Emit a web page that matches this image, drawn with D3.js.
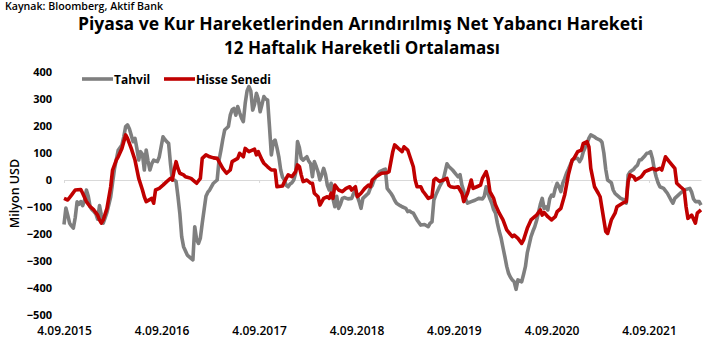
<!DOCTYPE html>
<html>
<head>
<meta charset="utf-8">
<script src="https://cdn.jsdelivr.net/npm/d3@7"></script>
<style>
  html, body { margin: 0; padding: 0; background: #fff; }
  svg { display: block; font-family: 'Open Sans', sans-serif; }
</style>
</head>
<body>
<div id="chart"></div>
<script>
// Veri — haftalık indeks (4.09.2015'ten itibaren hafta sayısı) ve değerler (milyon USD)
const seriesNames = ['Tahvil', 'Hisse Senedi']

const tahvilWeeks = [0,1,2,3,4,5,6,7,8,9,10,11,12,13,14,15,16,17,18,19,20,21,22,23,25,26,27,29,31,32,33,34,35,37,38,39,40,41,42,43,44,45,46,47,48,49,50,51,52,53,54,55,56,57,58,59,60,61,62,63,64,66,68,69,70,71,72,73,74,75,76,77,78,80,82,83,84,85,86,88,89,90,91,92,93,94,95,96,97,98,99,100,101,102,103,104,105,106,107,108,109,110,111,112,113,114,115,116,117,118,119,120,121,122,123,124,125,126,127,128,129,130,131,132,133,134,135,136,137,138,139,140,141,142,143,144,145,146,147,148,149,150,152,154,155,156,157,158,159,160,162,163,164,165,166,167,169,171,172,173,174,175,176,177,178,180,181,183,184,185,186,187,189,191,193,195,196,197,198,199,201,203,205,206,208,210,211,212,213,214,215,216,218,220,222,224,225,226,227,228,229,230,231,232,233,234,235,236,237,238,239,240,241,242,243,245,246,247,248,249,250,251,252,253,254,255,256,257,258,259,260,261,262,263,264,265,266,267,268,269,270,271,272,273,275,276,277,278,279,280,281,282,284,285,287,288,289,290,291,293,294,295,296,298,300,301,302,303,305,306,307,308,309,311,312,313,314,315,316,317,318,319,321,322,323,325,326,327,329,330,332,335,336,337,338,340,341]
const tahvilValues = [-165,-104,-130,-160,-170,-178,-140,-81,-90,-80,-95,-75,-37,-60,-99,-110,-117,-125,-145,-95,-130,-160,-140,-120,-62,-10,40,110,130,160,198,204,190,142,154,117,74,105,95,37,111,70,37,60,74,70,68,86,123,160,150,142,136,60,0,0,-5,-60,-123,-210,-247,-278,-290,-296,-173,-220,-235,-215,-160,-110,-60,-45,-37,-12,0,74,110,150,185,198,240,260,265,240,272,250,230,216,284,330,346,330,259,280,321,300,253,280,309,300,296,198,93,140,148,120,86,37,10,0,-20,-25,-15,-10,0,25,142,120,80,74,80,86,70,60,12,68,50,30,0,20,43,20,-20,-37,-12,-70,-99,-60,-105,-90,-68,-65,-70,-68,-50,-37,-60,-80,-105,-68,-55,-49,-30,-20,0,12,31,38,40,-31,-40,-49,-60,-75,-86,-95,-99,-105,-117,-115,-120,-123,-148,-167,-165,-173,-160,-155,-74,-56,-25,0,60,50,37,20,12,20,-19,-40,-70,-86,-80,-75,-68,-70,-60,-25,-50,-70,-86,-110,-123,-160,-190,-215,-250,-284,-320,-346,-360,-370,-377,-405,-370,-377,-350,-321,-270,-240,-210,-190,-173,-150,-120,-90,-68,-105,-100,-111,-70,-56,-60,-31,-12,-25,-43,-12,5,25,40,56,70,80,80,68,80,105,120,136,155,167,160,154,148,140,100,40,0,-10,-37,-50,-56,-68,-74,-86,19,30,40,49,55,74,75,90,99,100,105,80,40,12,-10,-25,-31,-40,-49,-75,-86,-68,-55,-49,-37,-31,-45,-70,-80,-80,-93]

const hisseWeeks = [0,2,4,6,9,10,12,14,16,18,19,20,21,23,25,26,28,29,31,33,34,36,38,40,42,43,44,47,48,49,51,53,55,57,58,59,60,61,62,64,65,66,68,70,71,73,74,76,78,80,82,83,85,87,89,90,93,94,96,97,99,102,103,104,106,107,109,111,113,114,117,118,120,122,124,125,126,127,128,130,132,133,134,136,137,139,141,142,143,144,145,147,149,151,153,154,156,157,159,161,163,164,165,167,170,173,174,176,177,179,181,182,184,187,188,189,191,192,193,195,197,198,199,201,203,205,206,207,209,211,213,214,216,218,219,221,223,224,226,227,228,230,231,233,235,237,240,241,243,245,246,248,250,252,253,255,256,257,259,261,263,264,266,268,270,272,273,275,277,278,280,281,282,284,286,287,288,290,291,293,295,296,299,301,302,303,305,306,309,311,313,315,317,319,320,322,324,327,328,330,332,333,334,336,338,339,341]
const hisseValues = [-68,-74,-56,-37,-35,-49,-80,-99,-111,-130,-148,-160,-148,-105,-25,37,74,86,117,167,154,117,74,6,-37,-62,-80,-68,-86,-37,-31,-19,-6,6,0,37,68,43,25,19,12,10,6,-6,-12,6,80,93,86,82,80,68,43,25,37,68,80,99,86,117,105,114,93,105,74,62,49,37,37,-25,-22,-6,19,12,31,56,50,19,-6,0,-12,-12,-49,-62,-93,-68,-62,-68,-49,-68,-19,-37,-43,-31,-25,-37,-25,-62,-49,-31,-19,-25,0,12,25,27,31,105,130,117,105,123,111,49,0,-25,-25,-40,-49,-68,-62,0,6,-5,0,6,-19,-25,-28,-25,-49,-80,-49,0,-31,-25,-19,6,31,6,-43,-68,-93,-123,-148,-185,-210,-204,-216,-235,-222,-179,-148,-136,-130,-111,-130,-120,-136,-148,-136,-117,-105,-56,19,74,80,105,111,136,142,123,43,-25,-49,-62,-105,-191,-198,-148,-123,-99,-86,-80,-6,19,12,0,12,31,37,43,37,43,37,86,68,43,-12,-25,-37,-99,-142,-130,-160,-123,-111]

const yTicks = [400, 300, 200, 100, 0, -100, -200, -300, -400, -500]
const xTickLabels = ['4.09.2015', '4.09.2016', '4.09.2017', '4.09.2018', '4.09.2019', '4.09.2020', '4.09.2021']

const COLORS = {
  tahvil: '#7f7f7f',
  hisse:  '#c00000',
  zero:   '#d9d9d9',
  text:   '#000000',
}

const W = 719, H = 355
const plot = { left: 64, right: 701, top: 72, bottom: 315 }

const parseLabel = d3.timeParse('%d.%m.%Y')
const startDate = parseLabel(xTickLabels[0])
const weekToDate = w => d3.timeDay.offset(startDate, w * 7)

const tahvil = tahvilWeeks.map((w, i) => ({ date: weekToDate(w), value: tahvilValues[i] }))
const hisse  = hisseWeeks.map((w, i) => ({ date: weekToDate(w), value: hisseValues[i] }))

const svg = d3.select('#chart').append('svg')
  .attr('width', W).attr('height', H)

// Kaynak
svg.append('text')
  .attr('x', 5).attr('y', 10)
  .attr('font-size', 10).attr('font-weight', 600)
  .attr('textLength', 158).attr('lengthAdjust', 'spacingAndGlyphs')
  .text('Kaynak: Bloomberg, Aktif Bank')

// Başlık — iki satır
svg.append('text')
  .attr('x', 78).attr('y', 30)
  .attr('font-size', 17).attr('font-weight', 700)
  .attr('textLength', 565).attr('lengthAdjust', 'spacingAndGlyphs')
  .text('Piyasa ve Kur Hareketlerinden Arındırılmış Net Yabancı Hareketi')

svg.append('text')
  .attr('x', 224).attr('y', 54)
  .attr('font-size', 17).attr('font-weight', 700)
  .attr('textLength', 276).attr('lengthAdjust', 'spacingAndGlyphs')
  .text('12 Haftalık Hareketli Ortalaması')

// Ölçekler
const x = d3.scaleTime()
  .domain([startDate, weekToDate(341)])
  .range([plot.left, plot.right])

const y = d3.scaleLinear()
  .domain([-500, 400])
  .range([plot.bottom, plot.top])

// Sıfır çizgisi + yıl işaretleri
const tickDates = xTickLabels.map(parseLabel)
svg.append('g')
  .attr('transform', `translate(0,${y(0)})`)
  .call(d3.axisBottom(x).tickValues(tickDates).tickSize(3).tickSizeOuter(0).tickFormat(''))
  .call(g => g.select('.domain').attr('stroke', COLORS.zero))
  .call(g => g.selectAll('.tick line').attr('stroke', COLORS.zero))

// X etiketleri
svg.append('g')
  .attr('transform', `translate(0,${plot.bottom})`)
  .call(d3.axisBottom(x).tickValues(tickDates).tickSize(0).tickFormat((d, i) => xTickLabels[i]))
  .call(g => g.select('.domain').remove())
  .call(g => g.selectAll('.tick text')
    .attr('y', 20).attr('dy', null)
    .attr('fill', COLORS.text)
    .attr('font-size', 12).attr('font-weight', 600)
    .attr('font-family', "'Open Sans', sans-serif"))

// Y ekseni
svg.append('g')
  .attr('transform', `translate(${plot.left},0)`)
  .call(d3.axisLeft(y).tickValues(yTicks).tickSize(0).tickPadding(12))
  .call(g => g.select('.domain').remove())
  .call(g => g.selectAll('.tick text')
    .attr('fill', COLORS.text)
    .attr('font-size', 11).attr('font-weight', 700)
    .attr('font-family', "'Open Sans', sans-serif"))

// Y başlığı
svg.append('text')
  .attr('transform', `translate(19,${y(-50)}) rotate(-90)`)
  .attr('text-anchor', 'middle')
  .attr('font-size', 12.5).attr('font-weight', 600)
  .text('Milyon USD')

// Seriler — önce tahvil, kırmızı üstte
const line = d3.line()
  .x(d => x(d.date))
  .y(d => y(d.value))

svg.append('path')
  .datum(tahvil)
  .attr('fill', 'none')
  .attr('stroke', COLORS.tahvil)
  .attr('stroke-width', 3.6)
  .attr('stroke-linejoin', 'round')
  .attr('d', line)

svg.append('path')
  .datum(hisse)
  .attr('fill', 'none')
  .attr('stroke', COLORS.hisse)
  .attr('stroke-width', 3.6)
  .attr('stroke-linejoin', 'round')
  .attr('d', line)

// Lejant
const legendItems = [
  { name: seriesNames[0], color: COLORS.tahvil, x: 82 },
  { name: seriesNames[1], color: COLORS.hisse,  x: 164 },
]
legendItems.forEach(item => {
  const row = svg.append('g').attr('transform', `translate(${item.x},79)`)
  row.append('line')
    .attr('x1', 0).attr('x2', 31)
    .attr('stroke', item.color).attr('stroke-width', 3.6)
  row.append('text')
    .attr('x', 32).attr('y', 4.5)
    .attr('font-size', 12).attr('font-weight', 700)
    .text(item.name)
})
</script>
</body>
</html>
